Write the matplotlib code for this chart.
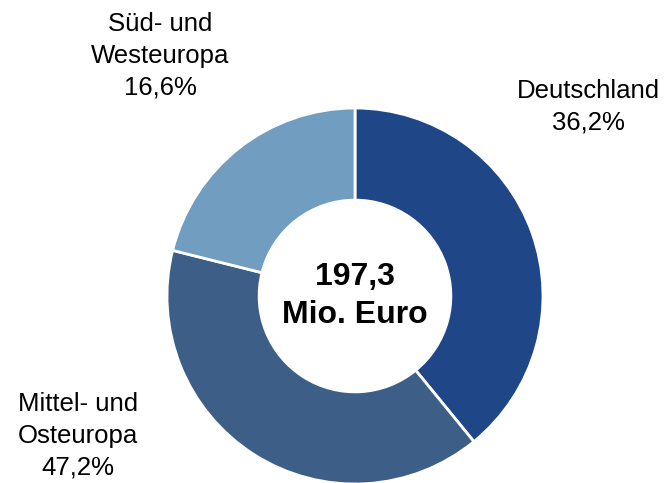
import matplotlib.pyplot as plt

# Data (labels as printed; wedge sizes as drawn in the reference)
regions = ['Deutschland', 'Mittel- und\nOsteuropa', 'Süd- und\nWesteuropa']
shares = ['36,2%', '47,2%', '16,6%']
wedge_sizes = [39.1, 39.8, 21.1]
total_text = '197,3\nMio. Euro'

colors = ['#1F4788', '#3D5E87', '#719DC0']
# label block centres in figure pixels (x, y from top)
label_pos = [(588, 107), (78, 436), (160, 56)]

plt.rcParams['font.family'] = ['Liberation Sans', 'DejaVu Sans']

W, H = 664, 483
fig = plt.figure(figsize=(W / 100, H / 100), dpi=100)

cx, cy, r = 355, 296, 188
ax = fig.add_axes([(cx - r) / W, (H - cy - r) / H, 2 * r / W, 2 * r / H])
ax.pie(
    wedge_sizes,
    colors=colors,
    startangle=90,
    counterclock=False,
    radius=1,
    wedgeprops=dict(width=0.49, edgecolor='white', linewidth=2),
)
ax.set_xlim(-1, 1)
ax.set_ylim(-1, 1)
ax.axis('off')

ax.text(0, 0.0, total_text, ha='center', va='center', fontsize=23,
        fontweight='bold', linespacing=1.35)

for name, share, (x, y) in zip(regions, shares, label_pos):
    fig.text(x / W, 1 - y / H, f'{name}\n{share}', ha='center', va='center',
             fontsize=18.5, linespacing=1.42)

fig.savefig('out.png', dpi=100)
